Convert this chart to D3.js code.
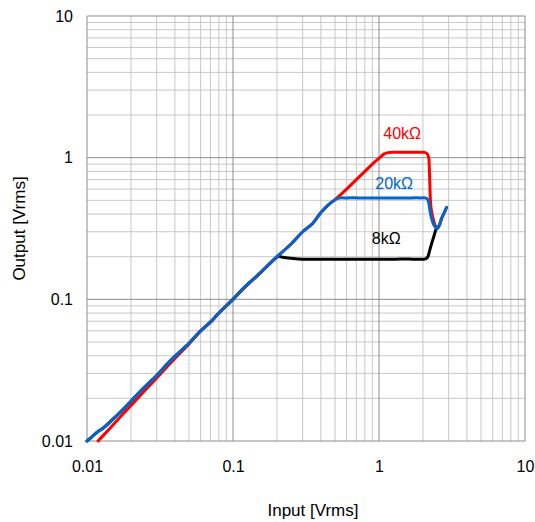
<!DOCTYPE html>
<html>
<head>
<meta charset="utf-8">
<script src="https://cdn.jsdelivr.net/npm/d3@7"></script>
<style>
  html, body { margin: 0; padding: 0; background: #fff; }
  svg { display: block; font-family: "Liberation Sans", Arial, sans-serif; }
</style>
</head>
<body>
<svg id="chart" width="535" height="522"></svg>
<script>
// ---- data ----
const xTickValues = [0.01, 0.1, 1, 10];
const xTickLabels = ["0.01", "0.1", "1", "10"];
const yTickValues = [0.01, 0.1, 1, 10];
const yTickLabels = ["0.01", "0.1", "1", "10"];

const seriesNames = ["8kΩ", "40kΩ", "20kΩ"];
const seriesColors = ["#000000", "#ff0000", "#0066cc"];

// 8kΩ (input, output)
const black8k = [
  [0.010,0.0100],[0.0108,0.0107],[0.0118,0.0116],[0.013,0.0124],[0.015,0.0142],[0.017,0.0161],
  [0.02,0.0191],[0.023,0.0222],[0.025,0.0242],[0.03,0.0290],[0.035,0.0345],[0.04,0.0396],
  [0.05,0.0490],[0.06,0.0600],[0.07,0.0690],[0.08,0.0800],[0.1,0.100],[0.12,0.122],
  [0.15,0.150],[0.18,0.180],[0.205,0.201],[0.22,0.198],[0.25,0.195],
  [0.3,0.192],[0.5,0.192],[0.8,0.192],[1.0,0.192],[1.3,0.192],[1.5,0.193],[1.7,0.192],
  [2.0,0.192],[2.08,0.193],[2.15,0.198],[2.22,0.22],[2.3,0.25],[2.38,0.28],[2.45,0.31],[2.5,0.325]
];

// 40kΩ
const red40k = [
  [0.0119,0.0100],[0.013,0.0110],[0.015,0.0129],[0.017,0.0149],[0.02,0.0178],[0.023,0.0208],
  [0.025,0.0228],[0.03,0.0278],[0.035,0.0330],[0.04,0.0383],[0.05,0.0485],[0.06,0.0597],
  [0.07,0.069],[0.08,0.080],[0.1,0.100],[0.12,0.121],[0.15,0.150],[0.2,0.200],[0.25,0.246],
  [0.3,0.300],[0.35,0.342],[0.4,0.410],[0.45,0.465],[0.5,0.505],[0.6,0.60],[0.7,0.70],
  [0.8,0.80],[0.9,0.90],[1.0,0.99],[1.08,1.06],[1.15,1.085],[1.3,1.09],[1.6,1.09],
  [1.9,1.09],[2.05,1.09],[2.13,1.07],[2.19,1.0],[2.21,0.85],[2.23,0.65],[2.25,0.50],
  [2.28,0.43],[2.35,0.37],[2.43,0.33],[2.5,0.315],[2.58,0.33],[2.68,0.37],[2.8,0.41],[2.9,0.445]
];

// 20kΩ
const blue20k = [
  [0.010,0.0100],[0.0108,0.0107],[0.0118,0.0116],[0.013,0.0124],[0.015,0.0142],[0.017,0.0161],
  [0.02,0.0191],[0.023,0.0222],[0.025,0.0242],[0.03,0.0290],[0.035,0.0345],[0.04,0.0396],
  [0.05,0.0490],[0.06,0.0600],[0.07,0.0690],[0.08,0.0800],[0.1,0.100],[0.12,0.122],
  [0.15,0.150],[0.2,0.200],[0.25,0.246],[0.3,0.300],[0.35,0.342],[0.4,0.410],[0.45,0.465],
  [0.5,0.505],[0.53,0.518],[0.6,0.520],[0.8,0.520],[1.0,0.520],[1.5,0.520],[1.95,0.520],
  [2.1,0.518],[2.17,0.50],[2.22,0.44],[2.28,0.38],[2.36,0.34],[2.45,0.32],[2.5,0.315],
  [2.58,0.33],[2.68,0.37],[2.8,0.41],[2.9,0.445]
];

const seriesData = [black8k, red40k, blue20k];
// label anchor points (data coordinates)
const labelPositions = [[1.12, 0.245], [1.44, 1.36], [1.27, 0.60]];

const xTitle = "Input [Vrms]";
const yTitle = "Output [Vrms]";

// ---- layout ----
const svg = d3.select("#chart");
const L = 87, R = 525, T = 16, B = 441;

const x = d3.scaleLog().domain([0.01, 10]).range([L, R]);
const y = d3.scaleLog().domain([0.01, 10]).range([B, T]);

// minor gridlines
const minorVals = [];
for (let d = 0.01; d < 10; d *= 10) {
  for (let k = 2; k <= 9; k++) minorVals.push(+(d * k).toPrecision(3));
}
const grid = svg.append("g");
grid.selectAll("line.vx").data(minorVals).enter().append("line")
  .attr("x1", d => x(d)).attr("x2", d => x(d)).attr("y1", T).attr("y2", B)
  .attr("stroke", "#c8c8c8").attr("stroke-width", 1);
grid.selectAll("line.hy").data(minorVals).enter().append("line")
  .attr("y1", d => y(d)).attr("y2", d => y(d)).attr("x1", L).attr("x2", R)
  .attr("stroke", "#c8c8c8").attr("stroke-width", 1);
// major gridlines
grid.selectAll("line.mx").data(xTickValues).enter().append("line")
  .attr("x1", d => x(d)).attr("x2", d => x(d)).attr("y1", T).attr("y2", B)
  .attr("stroke", "#8c8c8c").attr("stroke-width", 1);
grid.selectAll("line.my").data(yTickValues).enter().append("line")
  .attr("y1", d => y(d)).attr("y2", d => y(d)).attr("x1", L).attr("x2", R)
  .attr("stroke", "#8c8c8c").attr("stroke-width", 1);

// axes (labels only)
const xAxis = d3.axisBottom(x).tickValues(xTickValues)
  .tickFormat((d, i) => xTickLabels[i]).tickSize(0).tickPadding(0);
const gx = svg.append("g").attr("transform", `translate(0,${B})`).call(xAxis);
gx.select(".domain").remove();
gx.selectAll("text").attr("font-size", 16).attr("fill", "#000")
  .attr("font-family", "Liberation Sans, Arial, sans-serif").attr("dy", "1.95em");

const yAxis = d3.axisLeft(y).tickValues(yTickValues)
  .tickFormat((d, i) => yTickLabels[i]).tickSize(0).tickPadding(14);
const gy = svg.append("g").attr("transform", `translate(${L},0)`).call(yAxis);
gy.select(".domain").remove();
gy.selectAll("text").attr("font-size", 16).attr("fill", "#000")
  .attr("font-family", "Liberation Sans, Arial, sans-serif");

// series
const lineG = svg.append("g");
seriesData.forEach((s, i) => {
  lineG.append("path").datum(s)
    .attr("d", d3.line().x(d => x(d[0])).y(d => y(d[1])).curve(d3.curveCatmullRom.alpha(0.5)))
    .attr("fill", "none").attr("stroke", seriesColors[i])
    .attr("stroke-width", 3).attr("stroke-linejoin", "round").attr("stroke-linecap", "round");
});

// series labels
seriesNames.forEach((n, i) => {
  svg.append("text").attr("x", x(labelPositions[i][0])).attr("y", y(labelPositions[i][1]))
    .attr("text-anchor", "middle").attr("font-size", 16).attr("fill", seriesColors[i])
    .text(n);
});

// axis titles
svg.append("text").attr("x", (L + R) / 2 + 7).attr("y", 516)
  .attr("text-anchor", "middle").attr("font-size", 17).attr("fill", "#000").text(xTitle);
svg.append("text").attr("transform", `translate(25,${(T + B) / 2}) rotate(-90)`)
  .attr("text-anchor", "middle").attr("font-size", 17).attr("fill", "#000").text(yTitle);
</script>
</body>
</html>
